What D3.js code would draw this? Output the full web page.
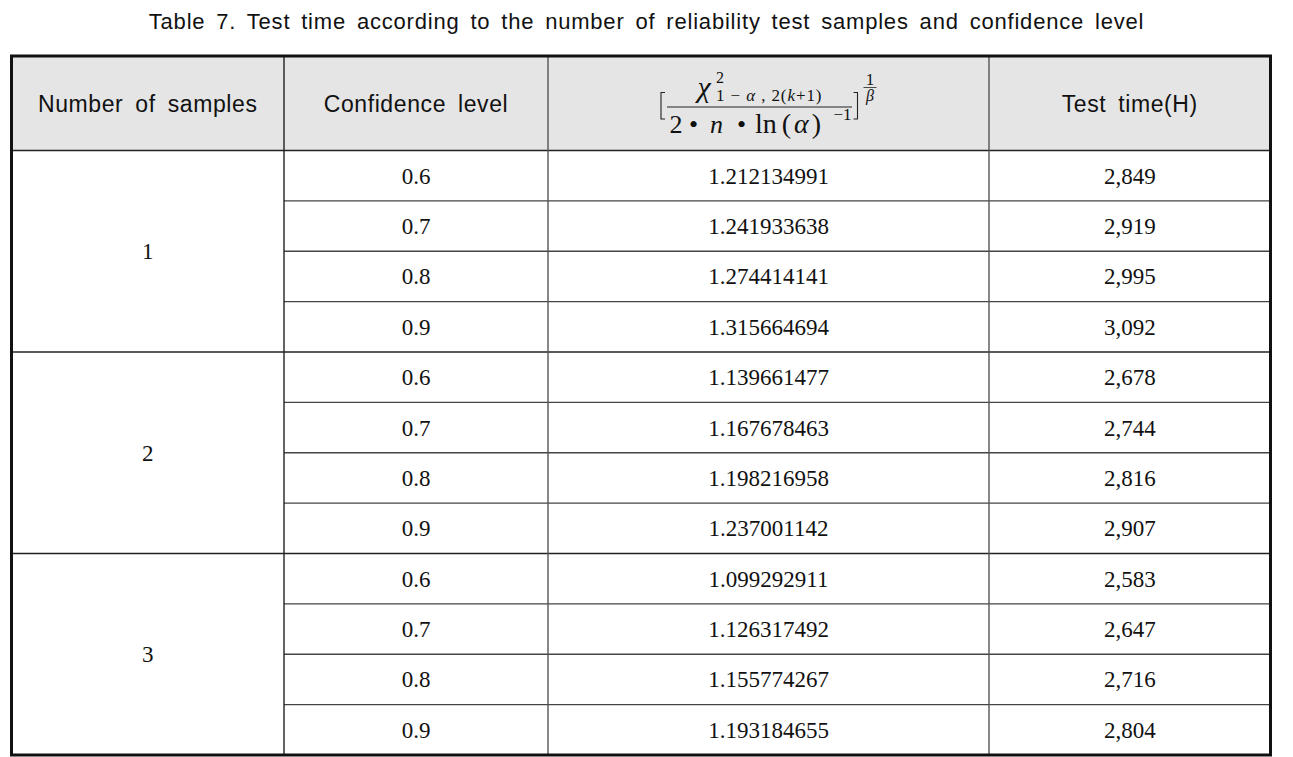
<!DOCTYPE html>
<meta charset="utf-8">
<style>

body {
  margin: 0;
  background: #fff;
}

.title {
  font-family: "Liberation Sans", Arial, sans-serif;
  font-size: 22px;
  letter-spacing: 0.8px;
  word-spacing: 4px;
  fill: #111;
}

.head text {
  font-family: "Liberation Sans", Arial, sans-serif;
  font-size: 23px;
  letter-spacing: 0.6px;
  word-spacing: 5px;
  fill: #111;
}

.cells text, .formula text {
  font-family: "Liberation Serif", "Times New Roman", serif;
  font-size: 23px;
  fill: #111;
}

</style>
<svg width="1293" height="757"></svg>
<script src="https://d3js.org/d3.v7.min.js"></script>

<script>

// table values
var samples = [1, 2, 3];
var confidence = [0.6, 0.7, 0.8, 0.9];
var factor = [
  "1.212134991", "1.241933638", "1.274414141", "1.315664694",
  "1.139661477", "1.167678463", "1.198216958", "1.237001142",
  "1.099292911", "1.126317492", "1.155774267", "1.193184655"
];
var testTime = [
  "2,849", "2,919", "2,995", "3,092",
  "2,678", "2,744", "2,816", "2,907",
  "2,583", "2,647", "2,716", "2,804"
];
var headers = ["Number of samples", "Confidence level", "", "Test time(H)"];
var title = "Table 7. Test time according to the number of reliability test samples and confidence level";

var svg = d3.select("svg"),
    width = +svg.attr("width"),
    height = +svg.attr("height");

var colEdges = [11.5, 284, 548, 989, 1270.5],
    tableTop = 56,
    headBottom = 150.5,
    tableBottom = 755;

var rows = [];
samples.forEach(function(s, si) {
  confidence.forEach(function(c, ci) {
    var i = si * confidence.length + ci;
    rows.push({sample: s, conf: c, factor: factor[i], time: testTime[i], i: i});
  });
});

var y = d3.scaleBand()
    .domain(d3.range(rows.length))
    .range([headBottom, tableBottom]);

var colMid = function(k) { return (colEdges[k] + colEdges[k + 1]) / 2; };

// title
svg.append("text")
    .attr("class", "title")
    .attr("x", width / 2)
    .attr("y", 29)
    .attr("text-anchor", "middle")
    .text(title);

// header background
svg.append("rect")
    .attr("x", colEdges[0])
    .attr("y", tableTop)
    .attr("width", colEdges[4] - colEdges[0])
    .attr("height", headBottom - tableTop)
    .style("fill", "#e5e5e5");

var head = svg.append("g").attr("class", "head");
head.selectAll("text")
  .data(headers.map(function(d, k) { return {t: d, k: k}; }).filter(function(d) { return d.t; }))
  .enter().append("text")
    .attr("x", function(d) { return colMid(d.k); })
    .attr("y", 112)
    .attr("text-anchor", "middle")
    .text(function(d) { return d.t; });

// formula header
var f = svg.append("g")
    .attr("class", "formula")
    .attr("transform", "translate(" + colMid(2) + ",0)");

f.append("path")
    .attr("d", "M-103.5,92.5H-107.5V119H-103.5 M85,92.5H89V119H85")
    .style("fill", "none").style("stroke", "#222").style("stroke-width", 1.1);
f.append("line")
    .attr("x1", -101.5).attr("x2", 83.5).attr("y1", 107).attr("y2", 107)
    .style("stroke", "#222").style("stroke-width", 1);
f.append("text").attr("x", -71).attr("y", 97)
    .style("font-style", "italic").style("font-size", "30px").text("χ");
f.append("text").attr("x", -52.5).attr("y", 83)
    .style("font-size", "16px").text("2");
var sub = f.append("text").attr("x", -52.5).attr("y", 101)
    .style("font-size", "17px")
    .style("letter-spacing", "0.9px");
sub.append("tspan").text("1 − ");
sub.append("tspan").style("font-style", "italic").text("α");
sub.append("tspan").text(" , 2(");
sub.append("tspan").style("font-style", "italic").text("k");
sub.append("tspan").text("+1)");

var den = [
  {t: "2", x: -92.5},
  {t: "•", x: -75},
  {t: "n", x: -52, it: true},
  {t: "•", x: -27}
];
f.selectAll(".den").data(den).enter().append("text")
    .attr("class", "den")
    .attr("x", function(d) { return d.x; })
    .attr("y", 133)
    .attr("text-anchor", "middle")
    .style("font-size", "26px")
    .style("font-style", function(d) { return d.it ? "italic" : null; })
    .text(function(d) { return d.t; });
var ln = f.append("text").attr("x", -13.5).attr("y", 133)
    .style("font-size", "28px");
ln.append("tspan").text("ln");
ln.append("tspan").attr("dx", 5).text("(");
ln.append("tspan").attr("dx", 3).style("font-style", "italic").text("α");
ln.append("tspan").attr("dx", 3).text(")");
f.append("text").attr("x", 65).attr("y", 120)
    .style("font-size", "17px").text("−1");

f.append("text").attr("x", 101.5).attr("y", 85)
    .attr("text-anchor", "middle").style("font-size", "17px").text("1");
f.append("line")
    .attr("x1", 95).attr("x2", 108).attr("y1", 87.5).attr("y2", 87.5)
    .style("stroke", "#222").style("stroke-width", 0.8);
f.append("text").attr("x", 101.5).attr("y", 101)
    .attr("text-anchor", "middle").style("font-size", "16px").style("font-style", "italic").text("β");

// body cells
var cells = svg.append("g").attr("class", "cells");

cells.selectAll(".sample")
  .data(samples)
  .enter().append("text")
    .attr("class", "sample")
    .attr("x", colMid(0))
    .attr("y", function(d, si) {
      var y0 = y(si * confidence.length),
          y1 = y((si + 1) * confidence.length - 1) + y.bandwidth();
      return (y0 + y1) / 2 + 8;
    })
    .attr("text-anchor", "middle")
    .text(function(d) { return d; });

var row = cells.selectAll(".row")
  .data(rows)
  .enter().append("g")
    .attr("class", "row")
    .attr("transform", function(d) { return "translate(0," + (y(d.i) + y.bandwidth() / 2 + 8) + ")"; });

row.append("text")
    .attr("x", colMid(1))
    .attr("text-anchor", "middle")
    .text(function(d) { return d3.format(".1f")(d.conf); });
row.append("text")
    .attr("x", colMid(2))
    .attr("text-anchor", "middle")
    .text(function(d) { return d.factor; });
row.append("text")
    .attr("x", colMid(3))
    .attr("text-anchor", "middle")
    .text(function(d) { return d.time; });

// grid lines
var grid = svg.append("g");

grid.selectAll(".hline")
  .data(d3.range(1, rows.length))
  .enter().append("line")
    .attr("x1", function(d) { return d % confidence.length === 0 ? colEdges[0] : colEdges[1]; })
    .attr("x2", colEdges[4])
    .attr("y1", function(d) { return y(d); })
    .attr("y2", function(d) { return y(d); })
    .style("stroke", function(d) { return d % confidence.length === 0 ? "#222" : "#444"; })
    .style("stroke-width", function(d) { return d % confidence.length === 0 ? 1.6 : 1.3; });

grid.append("line")
    .attr("x1", colEdges[0]).attr("x2", colEdges[4])
    .attr("y1", headBottom).attr("y2", headBottom)
    .style("stroke", "#222").style("stroke-width", 1.6);

grid.selectAll(".vline")
  .data(colEdges.slice(1, 4))
  .enter().append("line")
    .attr("x1", function(d) { return d; })
    .attr("x2", function(d) { return d; })
    .attr("y1", tableTop)
    .attr("y2", tableBottom)
    .style("stroke", function(d, i) { return i === 0 ? "#222" : "#555"; })
    .style("stroke-width", 1.4);

grid.append("rect")
    .attr("x", colEdges[0])
    .attr("y", tableTop)
    .attr("width", colEdges[4] - colEdges[0])
    .attr("height", tableBottom - tableTop)
    .style("fill", "none")
    .style("stroke", "#111")
    .style("stroke-width", 3);

</script>
